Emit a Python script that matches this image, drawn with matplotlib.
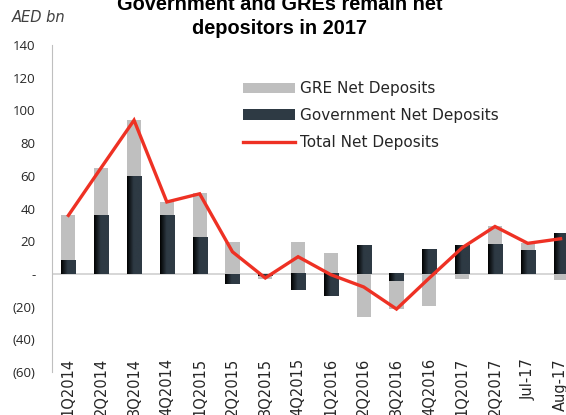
import numpy as np
import matplotlib
matplotlib.use("Agg")
import matplotlib.pyplot as plt
from matplotlib.colors import LinearSegmentedColormap
from matplotlib.ticker import FuncFormatter

# AED bn, quarterly then monthly
periods = ["1Q2014", "2Q2014", "3Q2014", "4Q2014", "1Q2015", "2Q2015", "3Q2015",
           "4Q2015", "1Q2016", "2Q2016", "3Q2016", "4Q2016", "1Q2017", "2Q2017",
           "Jul-17", "Aug-17"]
gov = [8.4, 36, 59.7, 35.5, 22.4, -6, -1, -9.8, -13.6, 17.7, -4.5, 14.7, 17.7, 18.3, 14.6, 24.9]
gre = [27.4, 28.6, 34.3, 8.2, 27, 19.4, -2, 19.4, 12.8, -26.3, -17.1, -19.4, -2.9, 11, 4, -3.8]
total = [35.8, 65, 94, 44, 49, 13.5, -2.5, 10.5, -0.5, -8, -21.5, -2.5, 16, 29, 18.7, 21.5]

GRAY = "#bfbfbf"
RED = "#ee3124"
SLATE = "#2e3a44"

fig = plt.figure(figsize=(5.66, 4.15), dpi=100)
ax = fig.add_axes([52 / 566, 43 / 415, 525 / 566, 327 / 415])

x = np.arange(len(periods))
gov = np.array(gov)
gre = np.array(gre)
# stack GRE on top of government where signs agree, otherwise from zero
gre_bottom = np.where(np.sign(gre) == np.sign(gov), gov, 0)

w = 0.43
gov_bars = ax.bar(x, gov, width=w, color=SLATE, zorder=2, label="Government Net Deposits")
ax.bar(x, gre, width=w, bottom=gre_bottom, color=GRAY, zorder=2, label="GRE Net Deposits")

# left-to-right dark gradient on the government bars
grad_cmap = LinearSegmentedColormap.from_list(
    "slate", [(0, "#000000"), (0.45, SLATE), (1, SLATE)])
grad = np.linspace(0, 1, 128).reshape(1, -1)
for p in gov_bars:
    bb = p.get_bbox()
    ax.imshow(grad, cmap=grad_cmap, aspect="auto", zorder=2.1,
              extent=[bb.x0, bb.x1, min(bb.y0, bb.y1), max(bb.y0, bb.y1)],
              clip_path=p, interpolation="bilinear")

ax.plot(x, total, color=RED, lw=2.4, zorder=4, solid_joinstyle="miter",
        label="Total Net Deposits")

ax.axhline(0, color="#d0d0d0", lw=1.2, zorder=1)

ax.set_xlim(-0.5, len(periods) - 0.5)
ax.set_ylim(-60, 140)
ax.set_yticks(range(-60, 141, 20))


def fmt(v, pos):
    if v == 0:
        return "-"
    if v < 0:
        return f"({abs(int(v))})"
    return f"{int(v)}"


ax.yaxis.set_major_formatter(FuncFormatter(fmt))
ax.set_xticks(x)
ax.set_xticklabels(periods, rotation=90)
ax.tick_params(axis="y", length=0, pad=12, labelsize=9.5, labelcolor="#262626")
ax.tick_params(axis="x", length=0, pad=-10, labelsize=10.5, labelcolor="#262626")
for lab in ax.get_yticklabels():
    lab.set_fontfamily("Open Sans")
for lab in ax.get_xticklabels():
    lab.set_fontfamily("DejaVu Sans")

for s in ["top", "right", "bottom"]:
    ax.spines[s].set_visible(False)
ax.spines["left"].set_color("#bfbfbf")
ax.spines["left"].set_linewidth(0.8)

handles, labels = ax.get_legend_handles_labels()
order = [labels.index(n) for n in ["GRE Net Deposits", "Government Net Deposits", "Total Net Deposits"]]
leg = ax.legend([handles[i] for i in order], [labels[i] for i in order],
                loc="upper left", bbox_to_anchor=(243 / 566, 1 - 81 / 415),
                bbox_transform=fig.transFigure, frameon=False,
                prop={"family": "DejaVu Sans", "size": 11},
                handlelength=3.4, handleheight=0.65, handletextpad=0.33,
                labelspacing=0.78, borderpad=0, borderaxespad=0)
for t in leg.get_texts():
    t.set_color("#262626")

fig.text(280 / 566, 1 - 34 / 415, "Government and GREs remain net\ndepositors in 2017",
         ha="center", va="baseline", fontsize=14.4, fontweight="bold",
         family="Liberation Sans", linespacing=1.3)
fig.text(12 / 566, 1 - 22 / 415, "AED bn", ha="left", va="baseline",
         fontsize=10.5, style="italic", family="DejaVu Sans", color="#404040")

fig.savefig("out.png", dpi=100)
